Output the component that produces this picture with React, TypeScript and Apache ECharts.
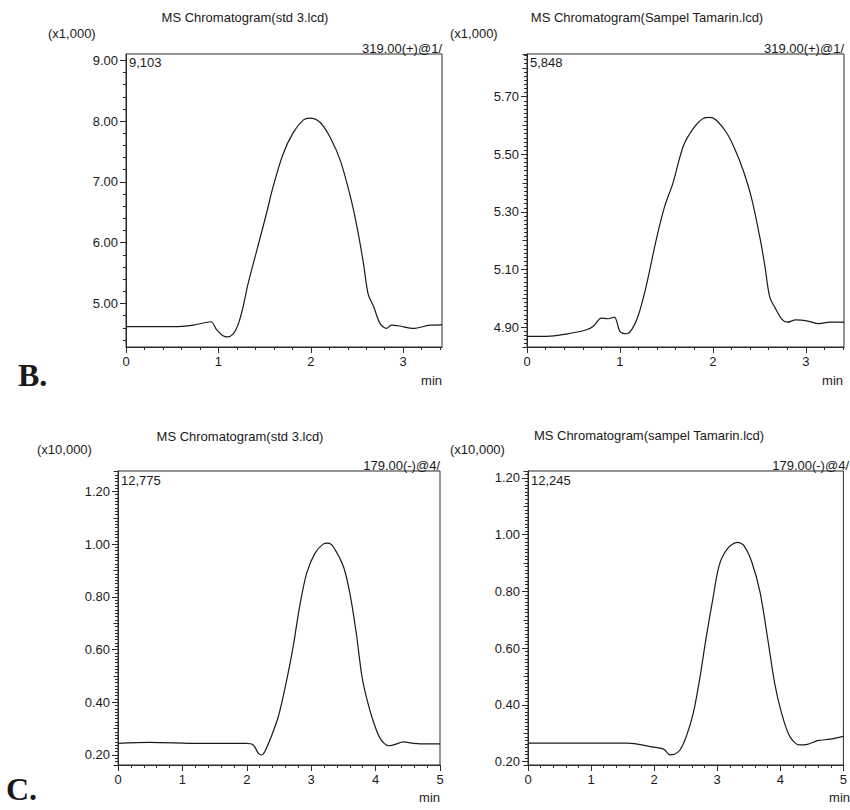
import React, { useEffect, useRef } from "react";
import * as echarts from "echarts";

// ---------- DATA ----------
// Panel B, std 3.lcd, 319.00(+)  (intensity x1,000)
const B_STD_TIME = [0, 0.5, 0.73, 0.92, 0.98, 1.05, 1.1, 1.16, 1.21, 1.26, 1.32, 1.41, 1.52, 1.59, 1.7, 1.81, 1.92, 1.99, 2.1, 2.21, 2.32, 2.43, 2.5, 2.57, 2.62, 2.68, 2.75, 2.82, 2.87, 2.96, 3.11, 3.29, 3.42];
const B_STD_INT = [4.62, 4.62, 4.645, 4.7, 4.57, 4.47, 4.45, 4.5, 4.64, 4.9, 5.32, 5.84, 6.48, 6.91, 7.46, 7.81, 8.02, 8.05, 7.98, 7.73, 7.35, 6.75, 6.26, 5.66, 5.16, 4.95, 4.67, 4.59, 4.645, 4.63, 4.59, 4.645, 4.65];
// Panel B, Sampel Tamarin.lcd, 319.00(+)  (x1,000)
const B_SMP_TIME = [0, 0.21, 0.42, 0.64, 0.71, 0.8, 0.87, 0.94, 1.0, 1.07, 1.13, 1.2, 1.29, 1.39, 1.48, 1.57, 1.68, 1.79, 1.9, 1.97, 2.04, 2.15, 2.24, 2.33, 2.42, 2.51, 2.56, 2.61, 2.67, 2.74, 2.8, 2.89, 3.01, 3.14, 3.26, 3.41];
const B_SMP_INT = [4.868, 4.868, 4.876, 4.891, 4.902, 4.931, 4.929, 4.935, 4.885, 4.877, 4.893, 4.943, 5.053, 5.203, 5.318, 5.4, 5.527, 5.59, 5.625, 5.628, 5.617, 5.573, 5.515, 5.44, 5.342, 5.203, 5.11, 5.006, 4.966, 4.928, 4.917, 4.925, 4.922, 4.912, 4.917, 4.917];
// Panel C, std 3.lcd, 179.00(-)  (x10,000)
const C_STD_TIME = [0, 0.49, 1.27, 1.99, 2.1, 2.18, 2.23, 2.28, 2.38, 2.49, 2.62, 2.72, 2.82, 2.93, 3.06, 3.19, 3.26, 3.34, 3.5, 3.6, 3.7, 3.78, 3.83, 3.94, 4.07, 4.2, 4.3, 4.43, 4.59, 4.84, 5.0];
const C_STD_INT = [0.244, 0.248, 0.244, 0.244, 0.238, 0.206, 0.2, 0.213, 0.27, 0.346, 0.485, 0.611, 0.763, 0.89, 0.966, 1.001, 1.004, 0.991, 0.915, 0.814, 0.662, 0.51, 0.447, 0.346, 0.263, 0.235, 0.24, 0.25, 0.244, 0.242, 0.242];
// Panel C, sampel Tamarin.lcd, 179.00(-)  (x10,000)
const C_SMP_TIME = [0, 1.58, 1.94, 2.15, 2.25, 2.33, 2.41, 2.51, 2.62, 2.72, 2.82, 2.93, 3.03, 3.16, 3.32, 3.42, 3.55, 3.68, 3.81, 3.91, 4.02, 4.15, 4.3, 4.43, 4.59, 4.79, 5.0];
const C_SMP_INT = [0.265, 0.265, 0.253, 0.244, 0.224, 0.227, 0.241, 0.289, 0.371, 0.489, 0.631, 0.773, 0.891, 0.95, 0.973, 0.962, 0.902, 0.796, 0.619, 0.477, 0.371, 0.289, 0.259, 0.261, 0.274, 0.279, 0.289];

// Tick labels
const B_STD_YTICKS = [5, 6, 7, 8, 9];
const B_SMP_YTICKS = [4.9, 5.1, 5.3, 5.5, 5.7];
const C_YTICKS = [0.2, 0.4, 0.6, 0.8, 1.0, 1.2];
const B_XTICKS = [0, 1, 2, 3];
const C_XTICKS = [0, 1, 2, 3, 4, 5];

// Texts
const TITLES = ["MS Chromatogram(std 3.lcd)", "MS Chromatogram(Sampel Tamarin.lcd)", "MS Chromatogram(std 3.lcd)", "MS Chromatogram(sampel Tamarin.lcd)"];
const UNITS = ["(x1,000)", "(x1,000)", "(x10,000)", "(x10,000)"];
const MZ = ["319.00(+)@1/", "319.00(+)@1/", "179.00(-)@4/", "179.00(-)@4/"];
const MAXLABELS = ["9,103", "5,848", "12,775", "12,245"];

const FONT = "'Liberation Sans', Arial, sans-serif";
const INK = "#1a1a1a";
const AXIS = "#2a2a2a";

const PANELS = [
  { time: B_STD_TIME, val: B_STD_INT, yTicks: B_STD_YTICKS, xTicks: B_XTICKS, grid: { left: 126, top: 54, width: 316, height: 293 }, xMax: 3.42, yMin: 4.285, yMax: 9.103, yMajor: 1, yMinorSplit: 5, yMid: 0 },
  { time: B_SMP_TIME, val: B_SMP_INT, yTicks: B_SMP_YTICKS, xTicks: B_XTICKS, grid: { left: 527, top: 54, width: 317, height: 293 }, xMax: 3.41, yMin: 4.831, yMax: 5.848, yMajor: 0.2, yMinorSplit: 14, yMid: 0.1 },
  { time: C_STD_TIME, val: C_STD_INT, yTicks: C_YTICKS, xTicks: C_XTICKS, grid: { left: 118, top: 471, width: 322, height: 294 }, xMax: 5, yMin: 0.162, yMax: 1.2775, yMajor: 0.2, yMinorSplit: 16, yMid: 0.1 },
  { time: C_SMP_TIME, val: C_SMP_INT, yTicks: C_YTICKS, xTicks: C_XTICKS, grid: { left: 528, top: 471, width: 321, height: 294 }, xMax: 5, yMin: 0.188, yMax: 1.2245, yMajor: 0.2, yMinorSplit: 16, yMid: 0.1 },
];

const TEXT_POS = [
  { title: [245, 17], unit: [48, 33], mzRight: 442, mzY: 55, maxXY: [129, 56], minRight: 442, minY: 380 },
  { title: [647, 17], unit: [450, 33], mzRight: 844, mzY: 55, maxXY: [530, 56], minRight: 843, minY: 380 },
  { title: [240, 436], unit: [37, 449], mzRight: 440, mzY: 472, maxXY: [121, 474], minRight: 440, minY: 797 },
  { title: [649, 435], unit: [450, 449], mzRight: 849, mzY: 472, maxXY: [531, 474], minRight: 850, minY: 797 },
];

function txt(text: string, x: number, y: number, align: string, vAlign: string, font = `13px ${FONT}`) {
  return {
    type: "text",
    x,
    y,
    silent: true,
    style: { text, font, fill: INK, textAlign: align, textVerticalAlign: vAlign, verticalAlign: vAlign },
  };
}

function buildOption() {
  const grids: any[] = [];
  const xAxes: any[] = [];
  const yAxes: any[] = [];
  const series: any[] = [];
  const graphics: any[] = [];

  PANELS.forEach((p, i) => {
    grids.push({ ...p.grid, show: true, borderColor: AXIS, borderWidth: 1, backgroundColor: "transparent" });
    xAxes.push({
      type: "value",
      gridIndex: i,
      min: 0,
      max: p.xMax,
      minInterval: 1,
      maxInterval: 1,
      axisLine: { show: true, onZero: false, lineStyle: { color: AXIS, width: 1 } },
      axisTick: { show: true, length: 6, lineStyle: { color: AXIS, width: 1 }, customValues: p.xTicks },
      minorTick: { show: true, splitNumber: 5, length: 3, lineStyle: { color: AXIS, width: 1 } },
      splitLine: { show: false },
      minorSplitLine: { show: false },
      axisLabel: {
        margin: 8,
        fontSize: 13,
        fontFamily: FONT,
        color: INK,
        customValues: p.xTicks,
        showMinLabel: true,
        showMaxLabel: true,
        formatter: (v: number) => String(Math.round(v)),
      },
    });
    const mainIdx = yAxes.length;
    yAxes.push({
      type: "value",
      gridIndex: i,
      position: "left",
      min: p.yMin,
      max: p.yMax,
      minInterval: p.yMajor,
      maxInterval: p.yMajor,
      axisLine: { show: true, lineStyle: { color: AXIS, width: 1 } },
      axisTick: { show: true, length: 6, lineStyle: { color: AXIS, width: 1 }, customValues: p.yTicks },
      minorTick: { show: true, splitNumber: p.yMinorSplit, length: 3, lineStyle: { color: AXIS, width: 1 } },
      splitLine: { show: false },
      minorSplitLine: { show: false },
      axisLabel: {
        margin: 8,
        fontSize: 13,
        fontFamily: FONT,
        color: INK,
        customValues: p.yTicks,
        showMinLabel: true,
        showMaxLabel: true,
        formatter: (v: number) => v.toFixed(2),
      },
    });
    if (p.yMid) {
      yAxes.push({
        type: "value",
        gridIndex: i,
        position: "left",
        offset: 0,
        min: p.yMin,
        max: p.yMax,
        minInterval: p.yMid,
        maxInterval: p.yMid,
        axisLine: { show: false },
        axisTick: { show: true, length: 4.5, lineStyle: { color: AXIS, width: 1 } },
        axisLabel: { show: false },
        splitLine: { show: false },
      });
    }
    series.push({
      type: "line",
      xAxisIndex: i,
      yAxisIndex: mainIdx,
      data: p.time.map((t, k) => [t, p.val[k]]),
      showSymbol: false,
      symbol: "none",
      smooth: 0.3,
      lineStyle: { color: "#1a1a1a", width: 1.2 },
      silent: true,
    });

    const tp = TEXT_POS[i];
    graphics.push(txt(TITLES[i], tp.title[0], tp.title[1], "center", "middle"));
    graphics.push(txt(UNITS[i], tp.unit[0], tp.unit[1], "left", "middle"));
    graphics.push(txt(MZ[i], tp.mzRight, tp.mzY, "right", "bottom"));
    graphics.push(txt(MAXLABELS[i], tp.maxXY[0], tp.maxXY[1], "left", "top"));
    graphics.push(txt("min", tp.minRight, tp.minY, "right", "middle"));
  });

  graphics.push(txt("B.", 18, 375, "left", "middle", `bold 32px 'Liberation Serif', 'Times New Roman', serif`));
  graphics.push(txt("C.", 6, 789, "left", "middle", `bold 32px 'Liberation Serif', 'Times New Roman', serif`));

  return {
    animation: false,
    backgroundColor: "#ffffff",
    grid: grids,
    xAxis: xAxes,
    yAxis: yAxes,
    series,
    graphic: { elements: graphics },
  };
}

export default function App() {
  const ref = useRef<HTMLDivElement | null>(null);
  useEffect(() => {
    if (!ref.current) return;
    const chart = echarts.init(ref.current, undefined, { renderer: "svg" });
    chart.setOption(buildOption() as any);
    return () => chart.dispose();
  }, []);
  return <div ref={ref} style={{ position: "absolute", left: 0, top: 0, width: 850, height: 810 }} />;
}
